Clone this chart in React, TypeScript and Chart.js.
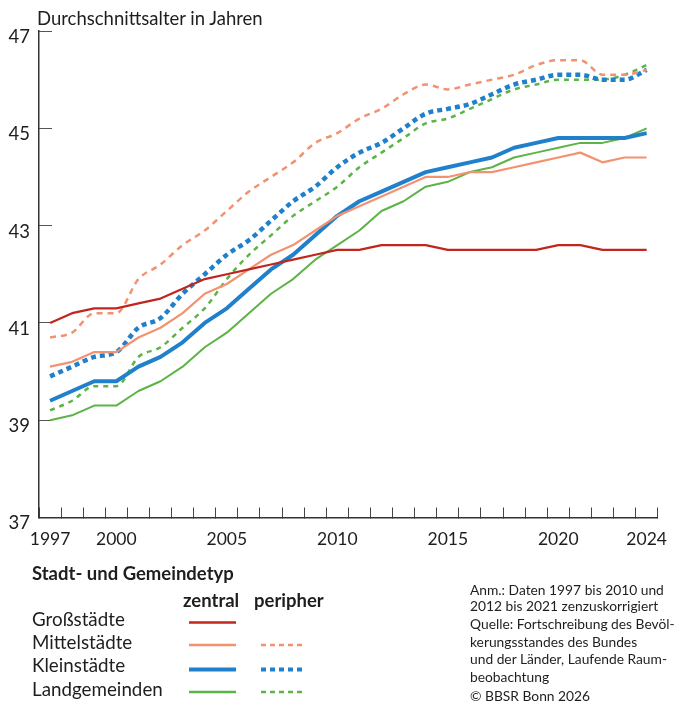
import React, { useEffect, useRef } from 'react';
import { Chart, registerables } from 'chart.js';

Chart.register(...registerables);

// ---- data ----
const years = [
  '1997', '1998', '1999', '2000', '2001', '2002', '2003', '2004', '2005', '2006',
  '2007', '2008', '2009', '2010', '2011', '2012', '2013', '2014', '2015', '2016',
  '2017', '2018', '2019', '2020', '2021', '2022', '2023', '2024',
];
const labeledYears = ['1997', '2000', '2005', '2010', '2015', '2020', '2024'];
const yMin = 37;
const yMax = 47;
const yStep = 2;

const grossZentral = [41.0, 41.2, 41.3, 41.3, 41.4, 41.5, 41.7, 41.9, 42.0, 42.1, 42.2, 42.3, 42.4, 42.5, 42.5, 42.6, 42.6, 42.6, 42.5, 42.5, 42.5, 42.5, 42.5, 42.6, 42.6, 42.5, 42.5, 42.5];
const mittelZentral = [40.1, 40.2, 40.4, 40.4, 40.7, 40.9, 41.2, 41.6, 41.8, 42.1, 42.4, 42.6, 42.9, 43.2, 43.4, 43.6, 43.8, 44.0, 44.0, 44.1, 44.1, 44.2, 44.3, 44.4, 44.5, 44.3, 44.4, 44.4];
const mittelPeripher = [40.7, 40.8, 41.2, 41.2, 41.9, 42.2, 42.6, 42.9, 43.3, 43.7, 44.0, 44.3, 44.7, 44.9, 45.2, 45.4, 45.7, 45.9, 45.8, 45.9, 46.0, 46.1, 46.3, 46.4, 46.4, 46.1, 46.1, 46.2];
const kleinZentral = [39.4, 39.6, 39.8, 39.8, 40.1, 40.3, 40.6, 41.0, 41.3, 41.7, 42.1, 42.4, 42.8, 43.2, 43.5, 43.7, 43.9, 44.1, 44.2, 44.3, 44.4, 44.6, 44.7, 44.8, 44.8, 44.8, 44.8, 44.9];
const kleinPeripher = [39.9, 40.1, 40.3, 40.4, 40.9, 41.1, 41.6, 42.0, 42.4, 42.7, 43.1, 43.5, 43.8, 44.2, 44.5, 44.7, 45.0, 45.3, 45.4, 45.5, 45.7, 45.9, 46.0, 46.1, 46.1, 46.0, 46.0, 46.2];
const landZentral = [39.0, 39.1, 39.3, 39.3, 39.6, 39.8, 40.1, 40.5, 40.8, 41.2, 41.6, 41.9, 42.3, 42.6, 42.9, 43.3, 43.5, 43.8, 43.9, 44.1, 44.2, 44.4, 44.5, 44.6, 44.7, 44.7, 44.8, 45.0];
const landPeripher = [39.2, 39.4, 39.7, 39.7, 40.3, 40.5, 40.9, 41.3, 41.9, 42.4, 42.8, 43.2, 43.5, 43.8, 44.2, 44.5, 44.8, 45.1, 45.2, 45.4, 45.6, 45.8, 45.9, 46.0, 46.0, 46.0, 46.1, 46.3];

const typeNames = ['Großstädte', 'Mittelstädte', 'Kleinstädte', 'Landgemeinden'];
const noteLines = [
  'Anm.: Daten 1997 bis 2010 und',
  '2012 bis 2021 zenzuskorrigiert',
  'Quelle: Fortschreibung des Bevöl-',
  'kerungsstandes des Bundes',
  'und der Länder, Laufende Raum-',
  'beobachtung',
  '© BBSR Bonn 2026',
];

// ---- styles ----
const RED = '#c0261e';
const SALMON = '#f39270';
const BLUE = '#2180cc';
const GREEN = '#5cb346';
const FONT = 'Lato, "Open Sans", sans-serif';
const TEXT = '#1e1e1e';

const W = 674;
const H = 704;
const CANVAS_H = 560;

export default function App() {
  const canvasRef = useRef<HTMLCanvasElement | null>(null);

  useEffect(() => {
    const canvas = canvasRef.current;
    if (!canvas) return;
    const solid = (label: string, data: number[], color: string, width: number) => ({
      label, data, borderColor: color, backgroundColor: color, borderWidth: width,
      pointRadius: 0, tension: 0, fill: false, borderCapStyle: 'butt' as const, borderJoinStyle: 'round' as const,
    });
    const dashed = (label: string, data: number[], color: string, width: number, dash: number[]) => ({
      label, data, borderColor: color, backgroundColor: color, borderWidth: width,
      pointRadius: 0, cubicInterpolationMode: 'monotone' as const, fill: false, borderDash: dash,
      borderCapStyle: 'butt' as const,
    });

    const chart = new Chart(canvas, {
      type: 'line',
      data: {
        labels: years,
        datasets: [
          solid('Großstädte zentral', grossZentral, RED, 2.2),
          solid('Mittelstädte zentral', mittelZentral, SALMON, 2.2),
          solid('Kleinstädte zentral', kleinZentral, BLUE, 4),
          solid('Landgemeinden zentral', landZentral, GREEN, 2),
          dashed('Mittelstädte peripher', mittelPeripher, SALMON, 2.5, [6, 5]),
          dashed('Kleinstädte peripher', kleinPeripher, BLUE, 4.5, [5, 4]),
          dashed('Landgemeinden peripher', landPeripher, GREEN, 2.5, [5, 5]),
        ],
      },
      options: {
        animation: false,
        responsive: false,
        maintainAspectRatio: false,
        layout: { padding: { top: 31, right: 16.3, left: 0, bottom: 0 } },
        plugins: {
          legend: { display: false },
          tooltip: { enabled: false },
          title: { display: false },
        },
        scales: {
          x: {
            type: 'category',
            offset: true,
            grid: {
              display: true,
              drawOnChartArea: false,
              drawTicks: true,
              tickLength: -10,
              color: '#444',
              lineWidth: 1,
              offset: true,
            },
            border: { display: true, color: '#333', width: 1.5 },
            ticks: {
              autoSkip: false,
              maxRotation: 0,
              minRotation: 0,
              padding: 21,
              color: TEXT,
              font: { family: FONT, size: 17.5 },
              callback: (_v: any, index: number) => (labeledYears.includes(years[index]) ? years[index] : ''),
            },
            afterFit: (s: any) => {
              s.height = CANVAS_H - 517.5;
              s.paddingLeft = 0;
              s.paddingRight = 0;
            },
          },
          y: {
            min: yMin,
            max: yMax,
            grid: {
              display: true,
              drawOnChartArea: false,
              drawTicks: true,
              tickLength: -13,
              color: '#555',
              lineWidth: 1,
            },
            border: { display: true, color: '#333', width: 1.5 },
            ticks: {
              stepSize: yStep,
              padding: 22,
              labelOffset: 6,
              color: TEXT,
              font: { family: FONT, size: 18.5 },
            },
            afterFit: (s: any) => {
              s.width = 39;
              s.paddingTop = 0;
              s.paddingBottom = 0;
            },
          },
        },
      },
    });
    return () => chart.destroy();
  }, []);

  const rowBase = [626, 649, 672, 696];
  const lineY = [622.5, 645, 669.5, 692];
  const zentralStyle = [
    { c: RED, w: 2.4 },
    { c: SALMON, w: 2.4 },
    { c: BLUE, w: 4 },
    { c: GREEN, w: 2.4 },
  ];
  const peripherStyle = [
    null,
    { c: SALMON, w: 2.6, d: '5 4' },
    { c: BLUE, w: 4, d: '5 4' },
    { c: GREEN, w: 2.6, d: '5 4' },
  ];
  const noteBase = [595, 611, 629, 647, 664, 682, 701];

  return (
    <div style={{ position: 'absolute', left: 0, top: 0, width: W, height: H, background: '#fff' }}>
      <canvas
        ref={canvasRef}
        width={W}
        height={CANVAS_H}
        style={{ position: 'absolute', left: 0, top: 0, width: W, height: CANVAS_H }}
      />
      <svg
        width={W}
        height={H}
        style={{ position: 'absolute', left: 0, top: 0, pointerEvents: 'none' }}
        fontFamily={FONT}
      >
        <text x={37} y={25} fontSize={18.5} fill={TEXT}>Durchschnittsalter in Jahren</text>
        <text x={32} y={580} fontSize={18.5} fontWeight="bold" fill={TEXT}>Stadt- und Gemeindetyp</text>
        <text x={183} y={607} fontSize={18.5} fontWeight="bold" fill={TEXT}>zentral</text>
        <text x={254} y={607} fontSize={18.5} fontWeight="bold" fill={TEXT}>peripher</text>
        {typeNames.map((n, i) => (
          <g key={n}>
            <text x={32} y={rowBase[i]} fontSize={18.8} fill={TEXT}>{n}</text>
            <line x1={189} x2={236} y1={lineY[i]} y2={lineY[i]} stroke={zentralStyle[i].c} strokeWidth={zentralStyle[i].w} />
            {peripherStyle[i] && (
              <line
                x1={261}
                x2={306}
                y1={lineY[i]}
                y2={lineY[i]}
                stroke={peripherStyle[i]!.c}
                strokeWidth={peripherStyle[i]!.w}
                strokeDasharray={peripherStyle[i]!.d}
              />
            )}
          </g>
        ))}
        {noteLines.map((t, i) => (
          <text key={i} x={470} y={noteBase[i]} fontSize={13.8} fill={TEXT}>{t}</text>
        ))}
      </svg>
    </div>
  );
}
